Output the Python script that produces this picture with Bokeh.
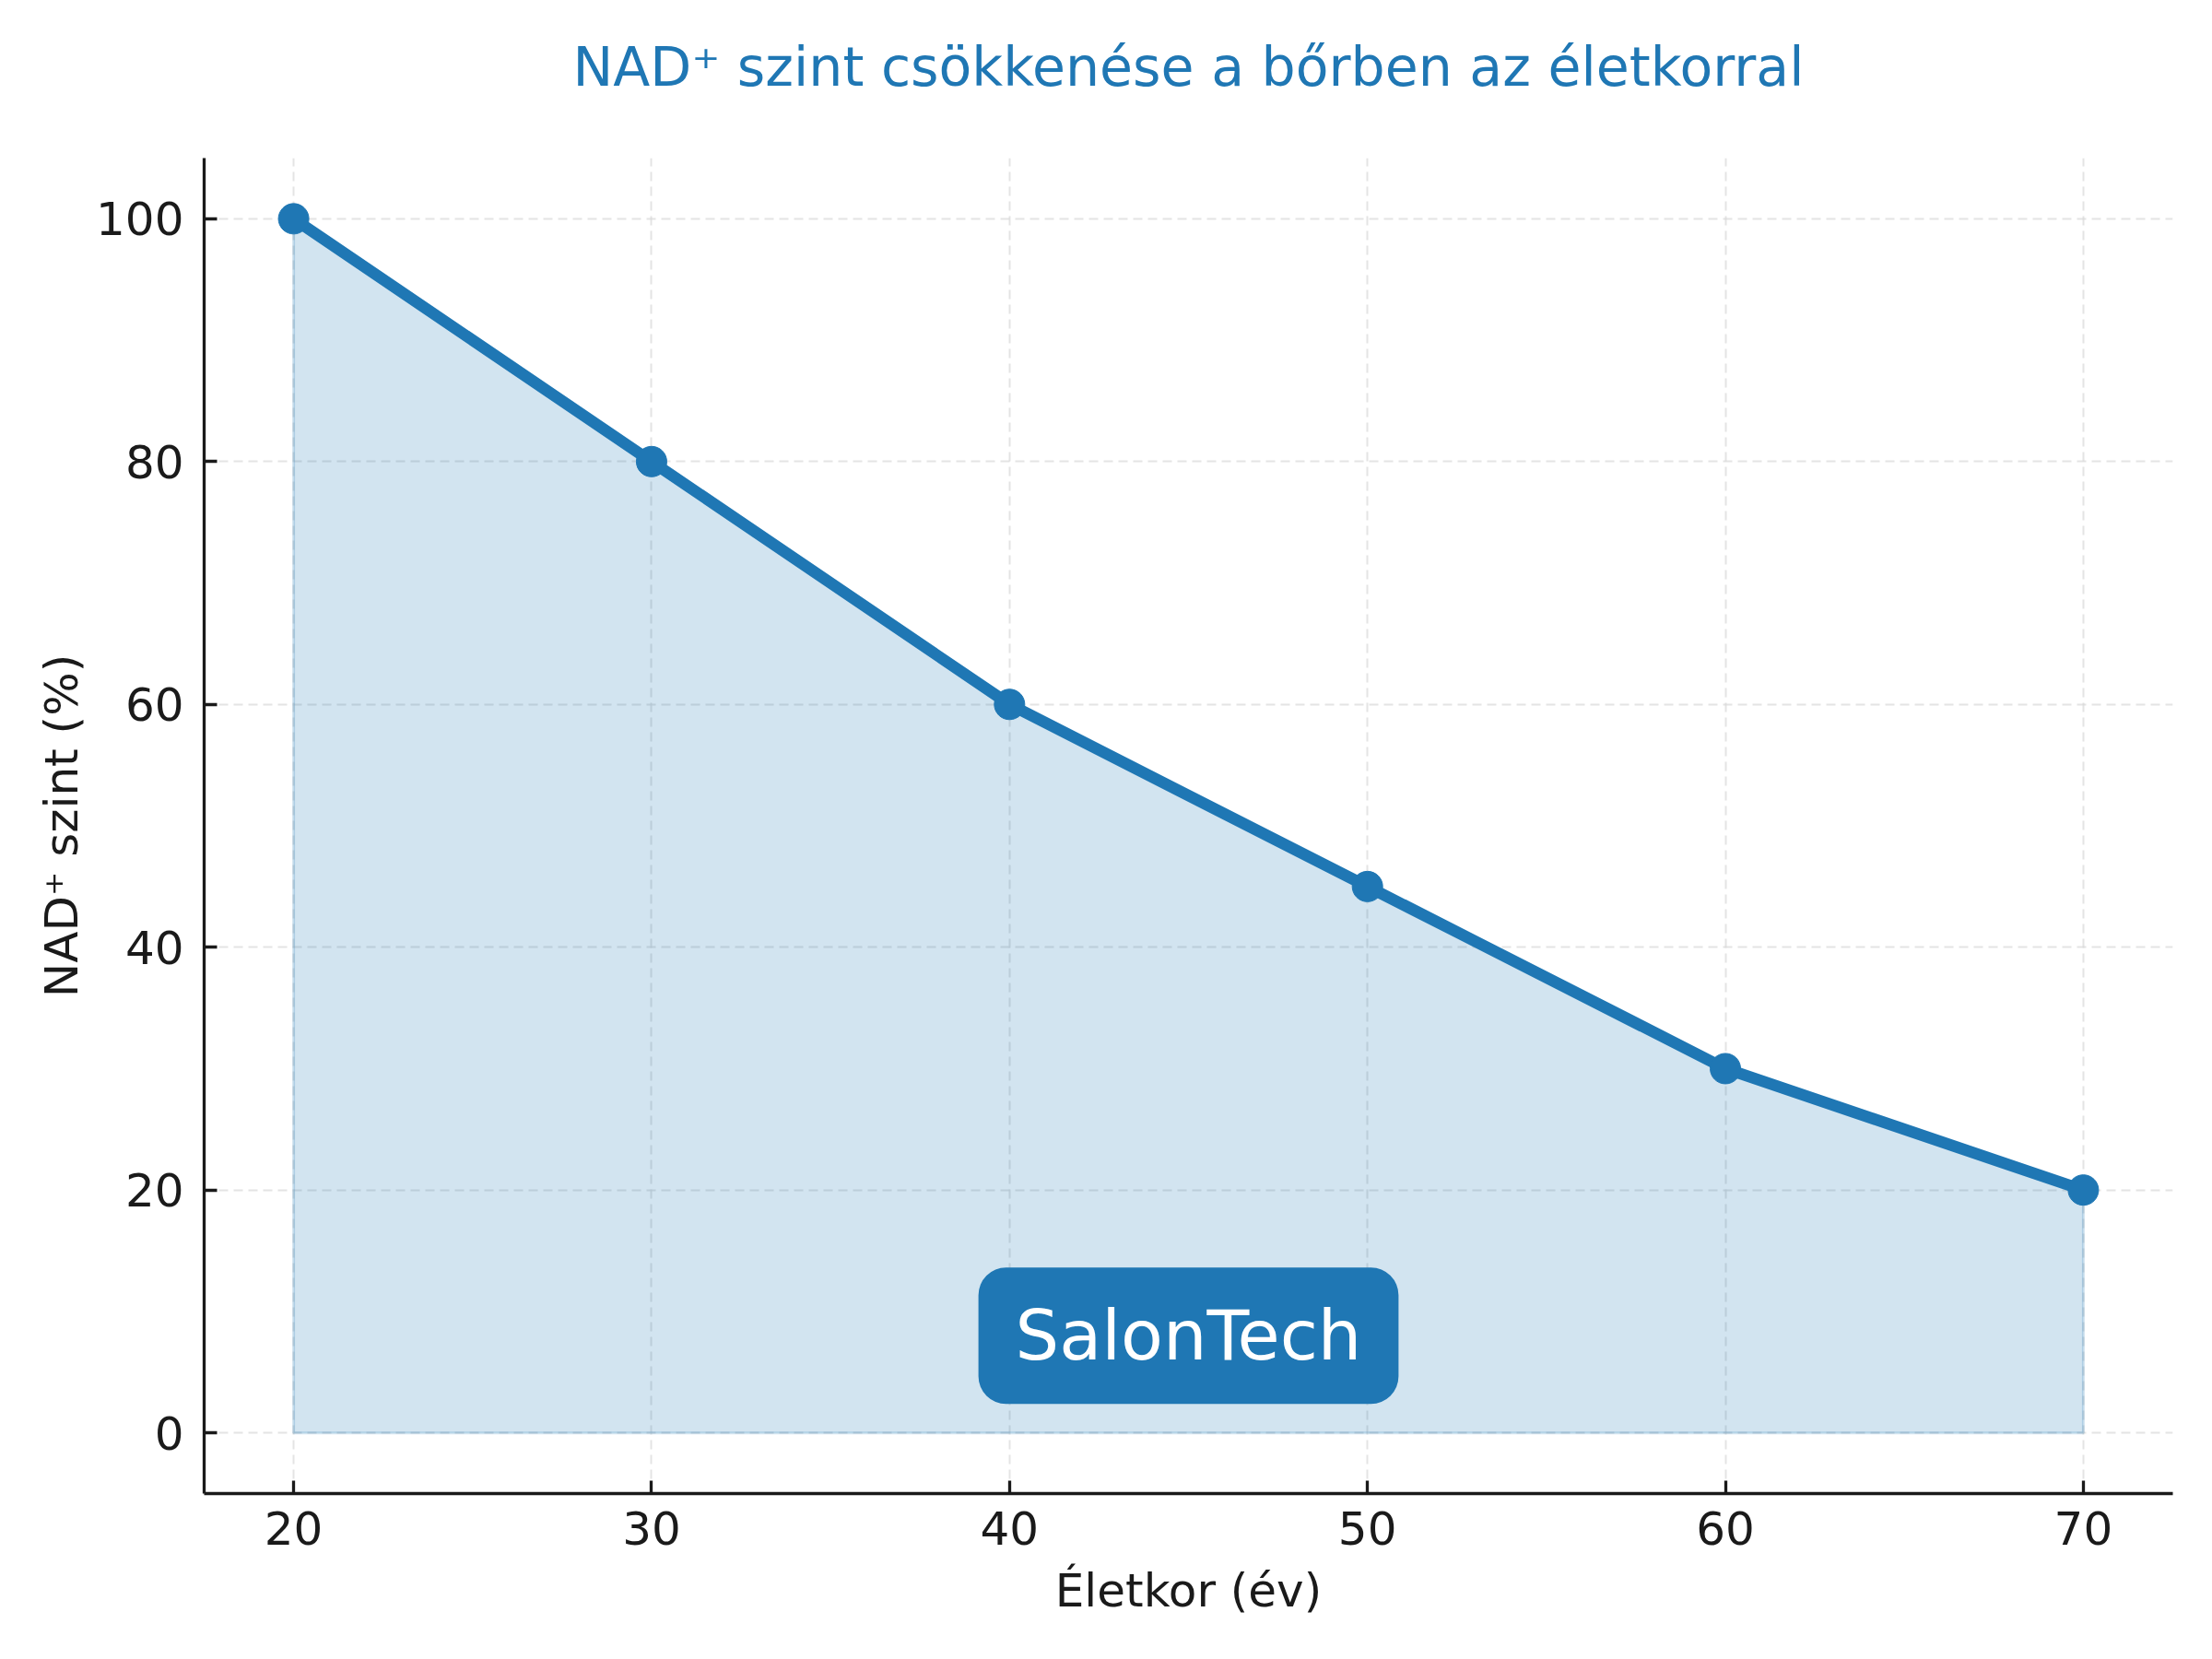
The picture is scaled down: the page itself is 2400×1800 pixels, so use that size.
from bokeh.plotting import figure
from bokeh.models import Range1d, FixedTicker, Label, Title
from bokeh.embed import file_html
from bokeh.resources import INLINE

ages = [20, 30, 40, 50, 60, 70]
nad_levels = [100, 80, 60, 45, 30, 20]
x_ticks = [20, 30, 40, 50, 60, 70]
y_ticks = [0, 20, 40, 60, 80, 100]

title_text = "NAD\u207a szint csökkenése a bőrben az életkorral"
x_label = "Életkor (év)"
y_label = "NAD\u207a szint (%)"
brand = "SalonTech"

BLUE = "#1f77b4"
FONT = "DejaVu Sans"
INK = "#1a1a1a"

p = figure(width=2384, height=1784, output_backend="svg", toolbar_location=None,
           x_range=Range1d(17.5, 72.5), y_range=Range1d(-5, 105),
           min_border_left=221, min_border_right=27, min_border_top=171,
           min_border_bottom=164)
p.outline_line_color = None
p.background_fill_color = "white"
p.border_fill_color = "white"

p.title = Title(text=title_text, align="center", text_font=FONT,
                text_font_size="58.5px", text_font_style="normal",
                text_color=BLUE, standoff=60)
# thin spacer between the title and the plot frame
p.add_layout(Title(text=" ", text_font_size="1px", standoff=32,
                   text_color="white"), "above")

for ax in (p.xaxis[0], p.yaxis[0]):
    ax.axis_line_color = INK
    ax.axis_line_width = 3.3
    ax.major_tick_line_color = INK
    ax.major_tick_line_width = 3.3
    ax.major_tick_in = 14
    ax.major_tick_out = 0
    ax.minor_tick_line_color = None
    ax.major_label_text_font = FONT
    ax.major_label_text_font_size = "50px"
    ax.major_label_text_color = INK
    ax.axis_label_text_font = FONT
    ax.axis_label_text_font_size = "50px"
    ax.axis_label_text_font_style = "normal"
    ax.axis_label_text_color = INK

p.xaxis.ticker = FixedTicker(ticks=x_ticks)
p.yaxis.ticker = FixedTicker(ticks=y_ticks)
p.xaxis.axis_label = x_label
p.yaxis.axis_label = y_label
p.xaxis.major_label_standoff = 19
p.yaxis.major_label_standoff = 22
p.xaxis.axis_label_standoff = 18
p.yaxis.axis_label_standoff = 5

for g in (p.xgrid[0], p.ygrid[0]):
    g.grid_line_color = "#d9d9d9"
    g.grid_line_alpha = 0.7
    g.grid_line_width = 2
    g.grid_line_dash = "10 6"
p.xgrid.ticker = FixedTicker(ticks=x_ticks)
p.ygrid.ticker = FixedTicker(ticks=y_ticks)

baseline = [0] * len(ages)
patch_x = ages + ages[::-1]
patch_y = nad_levels + baseline[::-1]
p.patch(patch_x, patch_y, fill_color=BLUE, fill_alpha=0.2,
        line_color=BLUE, line_alpha=0.2, line_width=3)

p.line(ages, nad_levels, line_color=BLUE, line_width=12.5)
p.scatter(ages, nad_levels, size=33, fill_color=BLUE, line_color=BLUE)

lbl = Label(x=45, y=8, text=brand, text_align="center", text_baseline="middle",
            text_color="white", text_font=FONT, text_font_size="75px",
            background_fill_color=BLUE, background_fill_alpha=1.0,
            border_radius=30, padding=dict(left=40, right=40, top=30, bottom=30))
p.add_layout(lbl)

open("out.html", "w").write(file_html(p, INLINE))
